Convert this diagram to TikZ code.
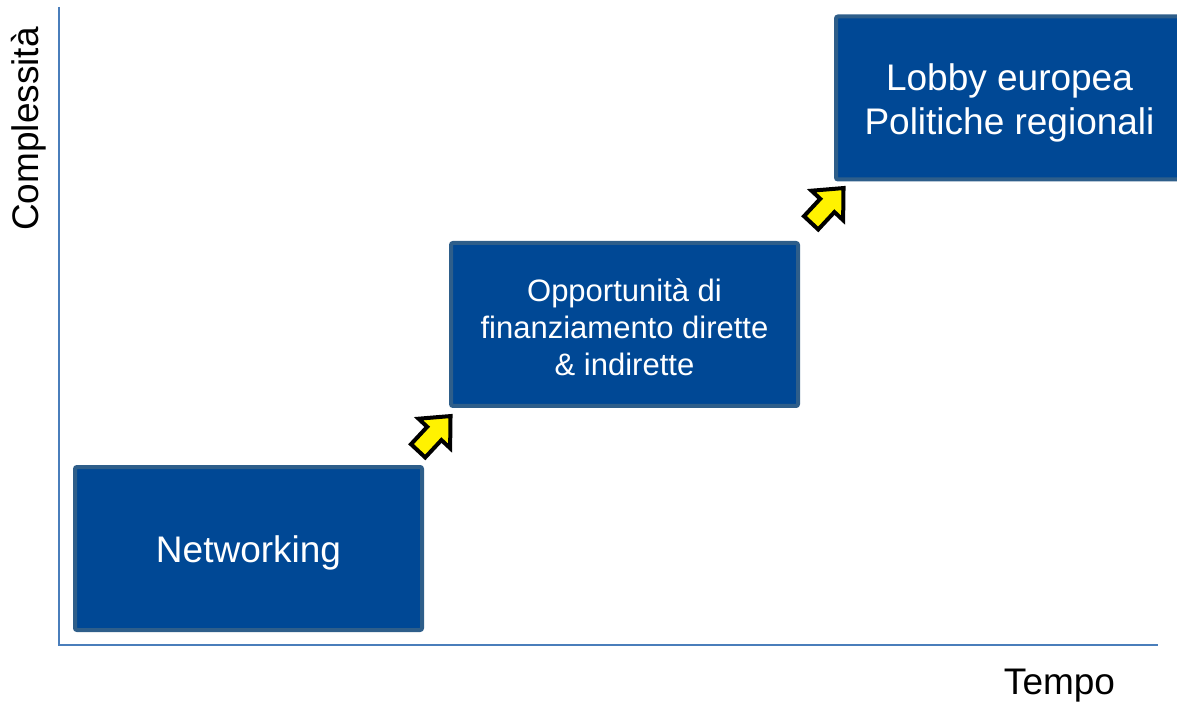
\documentclass[tikz,border=0pt]{standalone}
\usepackage{fontspec}
\setmainfont{Liberation Sans}
\definecolor{axisblue}{HTML}{4A7EBB}
\definecolor{boxfill}{HTML}{004895}
\definecolor{boxline}{HTML}{2E5E8A}
\begin{document}
\begin{tikzpicture}[x=1pt,y=1pt,
  stage/.style={draw=boxline, fill=boxfill, line width=4pt, rounded corners=2pt,
    minimum width=347pt, minimum height=163pt, inner sep=0pt},
  stagetext/.style={text=white, align=center, inner sep=0pt},
  upArrow/.style={draw=black, fill=yellow, line width=4pt, line join=miter},
  axis/.style={draw=axisblue, line width=1.6pt}]
\useasboundingbox (0,0) rectangle (1177,702);
\clip (0,0) rectangle (1177,702);
% axes
\coordinate (top) at (59,695);
\coordinate (origin) at (59,57);
\coordinate (right) at (1158,57);
\draw[axis] (top) -- (origin) -- (right);
% boxes
\node[stage] (net) at (248.5,153.5) {};
\node[stage] (opp) at (624.5,377.5) {};
\node[stage] (lob) at (1009.5,604) {};
\node[stagetext, font=\fontsize{37}{44}\selectfont] (nettext) at ([yshift=-4pt]net.center) {Networking};
\node[stagetext, font=\fontsize{31}{37}\selectfont] (opptext) at ([yshift=-2.5pt]opp.center) {Opportunità di\\finanziamento dirette\\\& indirette};
\node[stagetext, font=\fontsize{37}{44}\selectfont] (lobtext) at ([yshift=-4.5pt]lob.center) {Lobby europea\\Politiche regionali};
% arrows
\foreach \cx/\cy in {431/265, 824/493}{
  \begin{scope}[shift={(\cx,\cy)}, rotate=47, scale=1.08]
    \draw[upArrow] (-17.5,-9) -- (-17.5+22,-9) -- (-17.5+22,-20) -- (-17.5+44,0)
      -- (-17.5+22,20) -- (-17.5+22,9) -- (-17.5,9) -- cycle;
  \end{scope}
}
% labels
\node[font=\fontsize{37}{44}\selectfont, inner sep=0pt] (tempo) at (1059.5,16) {Tempo};
\node[font=\fontsize{37}{44}\selectfont, inner sep=0pt, rotate=90] (compl) at (28.5,573) {Complessità};
\end{tikzpicture}
\end{document}
